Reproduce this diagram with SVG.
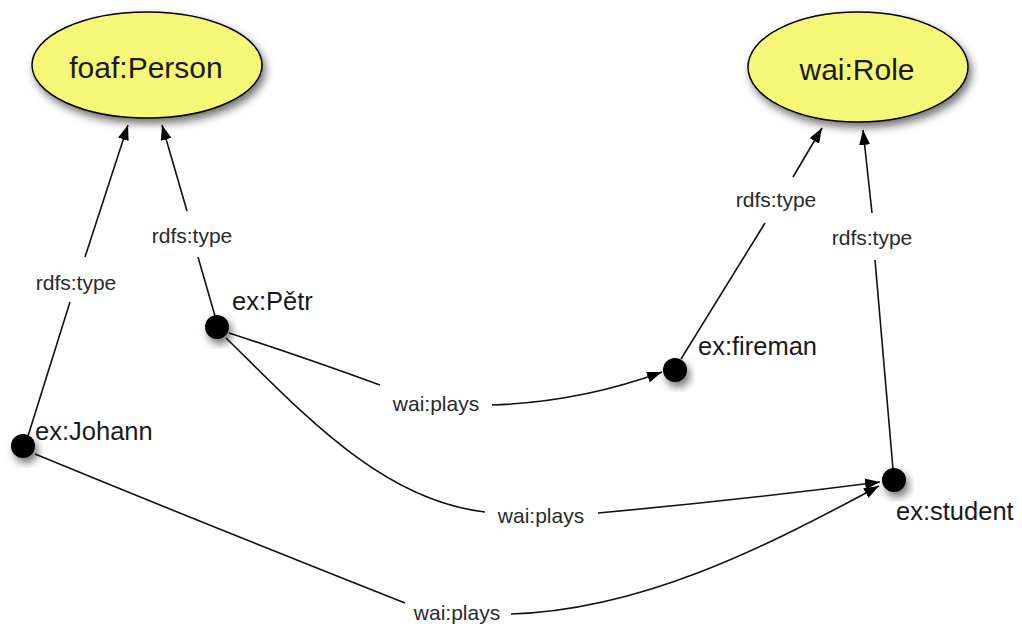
<svg xmlns="http://www.w3.org/2000/svg" width="1022" height="628" viewBox="0 0 1022 628">
<style>
.cls{fill:#f7f777;stroke:#000;stroke-width:1.5}
.dot{fill:#000}
.t{font-family:"Liberation Sans",Arial,sans-serif;fill:#1a1a1a}
.big{font-size:30px;text-anchor:middle}
.nl{font-size:25.5px}
.el{font-size:21px;text-anchor:middle;fill:#2a2a2a}
.e{fill:none;stroke:#111;stroke-width:1.6}
</style>
<defs>
<filter id="sh" x="-30%" y="-30%" width="160%" height="170%">
<feDropShadow dx="3" dy="5" stdDeviation="4" flood-color="#000" flood-opacity="0.55"/>
</filter>
<marker id="ar" viewBox="0 0 15 11" refX="15" refY="5.5" markerWidth="15" markerHeight="11" markerUnits="userSpaceOnUse" orient="auto">
<path d="M0,0 L15,5.5 L0,11 z" fill="#000"/>
</marker>
</defs>
<rect width="1022" height="628" fill="#fff"/>
<g id="edges">
<g id="e-johann-person">
<path class="e" d="M28,436 L70,302"/>
<path class="e" d="M85,257 L128,125" marker-end="url(#ar)"/>
<text class="t el" x="76" y="290">rdfs:type</text>
</g>
<g id="e-petr-person">
<path class="e" d="M215,316 L198,257"/>
<path class="e" d="M187,211 L162,125" marker-end="url(#ar)"/>
<text class="t el" x="192" y="243">rdfs:type</text>
</g>
<g id="e-fireman-role">
<path class="e" d="M681,359 L765,223"/>
<path class="e" d="M793,177 L822,128" marker-end="url(#ar)"/>
<text class="t el" x="776" y="207">rdfs:type</text>
</g>
<g id="e-student-role">
<path class="e" d="M893,469 L875,260"/>
<path class="e" d="M872,213 L863,130" marker-end="url(#ar)"/>
<text class="t el" x="872" y="245">rdfs:type</text>
</g>
<g id="e-petr-fireman">
<path class="e" d="M229,333 Q300,356 380,385"/>
<path class="e" d="M492,405 Q580,402 662,372" marker-end="url(#ar)"/>
<text class="t el" x="436" y="411">wai:plays</text>
</g>
<g id="e-petr-student">
<path class="e" d="M226,338 C300,410 380,500 485,512"/>
<path class="e" d="M598,513 Q740,500 880,482" marker-end="url(#ar)"/>
<text class="t el" x="541" y="523">wai:plays</text>
</g>
<g id="e-johann-student">
<path class="e" d="M35,454 Q220,530 405,603"/>
<path class="e" d="M511,614 C640,610 760,550 879,486" marker-end="url(#ar)"/>
<text class="t el" x="457" y="620">wai:plays</text>
</g>
</g>
<g id="foaf-person">
<ellipse class="cls" cx="147" cy="65" rx="115" ry="53" filter="url(#sh)"/>
<text class="t big" x="146" y="78">foaf:Person</text>
</g>
<g id="wai-role">
<ellipse class="cls" cx="858" cy="67" rx="110" ry="55" filter="url(#sh)"/>
<text class="t big" x="857" y="80">wai:Role</text>
</g>
<g id="ex-petr">
<circle class="dot" cx="217" cy="327" r="12" filter="url(#sh)"/>
<text class="t nl" x="232" y="310">ex:Pětr</text>
</g>
<g id="ex-johann">
<circle class="dot" cx="23" cy="446" r="12" filter="url(#sh)"/>
<text class="t nl" x="35" y="440">ex:Johann</text>
</g>
<g id="ex-fireman">
<circle class="dot" cx="675" cy="370" r="12" filter="url(#sh)"/>
<text class="t nl" x="698" y="355">ex:fireman</text>
</g>
<g id="ex-student">
<circle class="dot" cx="894" cy="480" r="12" filter="url(#sh)"/>
<text class="t nl" x="896" y="520">ex:student</text>
</g>
</svg>
